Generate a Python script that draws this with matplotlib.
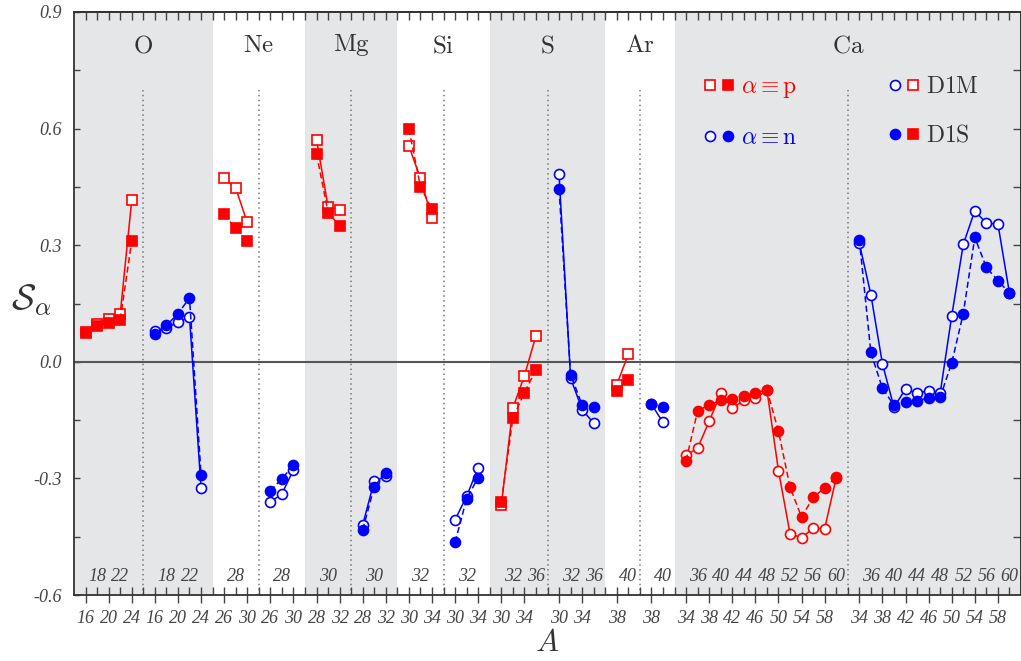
import matplotlib
matplotlib.use("Agg")
import matplotlib.pyplot as plt
from matplotlib.lines import Line2D
from matplotlib.legend_handler import HandlerTuple

plt.rcParams['mathtext.fontset'] = 'cm'

# ---------------- data ----------------
elements = ['O', 'Ne', 'Mg', 'Si', 'S', 'Ar', 'Ca']

A_O = [16, 18, 20, 22, 24]
A_Ne = [26, 28, 30]
A_Mg = [28, 30, 32]
A_Si = [30, 32, 34]
A_S = [30, 32, 34, 36]
A_Ar = [38, 40]
A_Ca = [34, 36, 38, 40, 42, 44, 46, 48, 50, 52, 54, 56, 58, 60]

# alpha = p  (D1M open, D1S filled)
p_D1M_O = [0.076, 0.098, 0.110, 0.123, 0.416]
p_D1S_O = [0.074, 0.093, 0.101, 0.108, 0.311]
p_D1M_Ne = [0.472, 0.447, 0.359]
p_D1S_Ne = [0.380, 0.343, 0.312]
p_D1M_Mg = [0.571, 0.399, 0.391]
p_D1S_Mg = [0.535, 0.384, 0.350]
p_D1M_Si = [0.555, 0.472, 0.369]
p_D1S_Si = [0.599, 0.451, 0.392]
p_D1M_S = [-0.369, -0.119, -0.036, 0.067]
p_D1S_S = [-0.361, -0.145, -0.079, -0.021]
p_D1M_Ar = [-0.059, 0.020]
p_D1S_Ar = [-0.075, -0.048]
p_D1M_Ca = [-0.241, -0.222, -0.153, -0.081, -0.120, -0.099, -0.094, -0.073,
            -0.280, -0.442, -0.453, -0.428, -0.429, -0.298]
p_D1S_Ca = [-0.254, -0.126, -0.111, -0.099, -0.096, -0.087, -0.080, -0.072,
            -0.179, -0.322, -0.400, -0.349, -0.324, -0.297]

# alpha = n  (D1M open, D1S filled)
n_D1M_O = [0.080, 0.087, 0.102, 0.116, -0.325]
n_D1S_O = [0.072, 0.094, 0.123, 0.165, -0.290]
n_D1M_Ne = [-0.361, -0.340, -0.278]
n_D1S_Ne = [-0.332, -0.301, -0.266]
n_D1M_Mg = [-0.419, -0.307, -0.295]
n_D1S_Mg = [-0.432, -0.321, -0.285]
n_D1M_Si = [-0.406, -0.346, -0.272]
n_D1S_Si = [-0.464, -0.352, -0.298]
n_D1M_S = [0.482, -0.042, -0.123, -0.158]
n_D1S_S = [0.444, -0.033, -0.111, -0.116]
n_D1M_Ar = [-0.109, -0.156]
n_D1S_Ar = [-0.109, -0.116]
n_D1M_Ca = [0.305, 0.173, -0.005, -0.117, -0.070, -0.081, -0.074, -0.081,
            0.118, 0.302, 0.389, 0.356, 0.355, 0.177]
n_D1S_Ca = [0.314, 0.024, -0.068, -0.112, -0.104, -0.101, -0.093, -0.091,
            -0.003, 0.124, 0.320, 0.243, 0.209, 0.177]

y_ticks = [-0.6, -0.3, 0.0, 0.3, 0.6, 0.9]
y_tick_labels = ['-0.6', '-0.3', '0.0', '0.3', '0.6', '0.9']

groups = [
    ('O', A_O, p_D1M_O, p_D1S_O, n_D1M_O, n_D1S_O, 's'),
    ('Ne', A_Ne, p_D1M_Ne, p_D1S_Ne, n_D1M_Ne, n_D1S_Ne, 's'),
    ('Mg', A_Mg, p_D1M_Mg, p_D1S_Mg, n_D1M_Mg, n_D1S_Mg, 's'),
    ('Si', A_Si, p_D1M_Si, p_D1S_Si, n_D1M_Si, n_D1S_Si, 's'),
    ('S', A_S, p_D1M_S, p_D1S_S, n_D1M_S, n_D1S_S, 's'),
    ('Ar', A_Ar, p_D1M_Ar, p_D1S_Ar, n_D1M_Ar, n_D1S_Ar, 's'),
    ('Ca', A_Ca, p_D1M_Ca, p_D1S_Ca, n_D1M_Ca, n_D1S_Ca, 'o'),
]

# ---------------- style ----------------
RED = '#ff0000'
BLUE = '#0000ff'
BAND = '#e5e6e8'
TXT = '#333333'
MS = 7.2
MEW = 1.2
LW = 1.1
DASH = (0, (4, 2.2))
tickfont = dict(family='Liberation Serif', style='italic', size=13, color='#444444')

fig = plt.figure(figsize=(10.21, 6.61), dpi=100)
ax = fig.add_axes([74 / 1021, 66 / 661, 947 / 1021, 583 / 661])
ax.set_ylim(-0.6, 0.9)

bottom_ticks, bottom_labels = [], []
slot = 0
for gi, (name, A, pM, pS, nM, nS, pmark) in enumerate(groups):
    n = len(A)
    xp = list(range(slot, slot + n))
    sep = slot + n
    xn = list(range(sep + 1, sep + 1 + n))
    band_lo, band_hi = slot - 1, sep + n + 1
    if gi % 2 == 0:
        ax.axvspan(band_lo, band_hi, color=BAND, zorder=0, lw=0)
    ax.plot([sep, sep], [-0.6, 0.70], ls=(0, (1, 2.2)), color='#777777', lw=1.1, zorder=1)
    ax.text(sep, 0.815, r'$\mathrm{%s}$' % name, fontsize=18, color=TXT,
            ha='center', va='center')
    for xs, M, S, col, mk in [(xp, pM, pS, RED, pmark), (xn, nM, nS, BLUE, 'o')]:
        ax.plot(xs, M, ls='-', lw=LW, color=col, marker=mk, ms=MS, mfc='white',
                mec=col, mew=MEW, zorder=3)
        ax.plot(xs, S, ls=DASH, lw=LW, color=col, marker=mk, ms=MS, mfc=col,
                mec=col, mew=MEW, zorder=4)
        for i, (x, a) in enumerate(zip(xs, A)):
            if i % 2 == 0:
                bottom_ticks.append(x)
                bottom_labels.append(str(a))
            else:
                ax.text(x, -0.553, str(a), ha='center', va='center', **tickfont)
    slot = sep + n + 2

ax.set_xlim(-1, slot - 1)
ax.axhline(0, color='#555555', lw=1.5, zorder=2)

# ticks
ax.set_xticks(bottom_ticks)
ax.set_xticklabels(bottom_labels, fontdict=tickfont)
ax.set_xticks(range(0, slot - 1), minor=True)
ax.tick_params(axis='x', which='major', direction='inout', length=11.5, width=1.0,
               color='#444444', pad=5)
ax.tick_params(axis='x', which='minor', direction='in', length=5.8, width=1.0,
               color='#444444')
ax.set_yticks(y_ticks)
ax.set_yticklabels(y_tick_labels, fontdict=tickfont)
ax.set_yticks([-0.45, -0.15, 0.15, 0.45, 0.75], minor=True)
ax.tick_params(axis='y', which='both', direction='in', length=4.5, width=1.0,
               color='#444444', pad=9)

top = ax.secondary_xaxis('top')
top.set_xticks(range(0, slot - 1))
top.tick_params(direction='in', length=5.8, width=1.0, color='#444444', labeltop=False)
right = ax.secondary_yaxis('right')
right.set_yticks([-0.45, -0.3, -0.15, 0.0, 0.15, 0.3, 0.45, 0.6, 0.75])
right.tick_params(direction='in', length=5.8, width=1.0, color='#444444', labelright=False)

for sp in list(ax.spines.values()) + list(top.spines.values()) + list(right.spines.values()):
    sp.set_color('#333333')
    sp.set_linewidth(1.3)

ax.set_xlabel(r'$A$', fontsize=22, color=TXT)
ax.xaxis.set_label_coords(0.5, -0.057)
ax.set_ylabel(r'$\mathcal{S}_\alpha$', fontsize=26, color=TXT, rotation=0,
              ha='center', va='center')
ax.yaxis.set_label_coords(-0.045, 0.506)

# legend
def mk(marker, col, filled):
    return Line2D([], [], ls='none', marker=marker, ms=MS, mec=col,
                  mfc=col if filled else 'white', mew=MEW)

handles = [(mk('s', RED, False), mk('s', RED, True)),
           (mk('o', BLUE, False), mk('o', BLUE, True)),
           (mk('o', BLUE, False), mk('s', RED, False)),
           (mk('o', BLUE, True), mk('s', RED, True))]
labels = [r'$\alpha \equiv \mathrm{p}$', r'$\alpha \equiv \mathrm{n}$',
          r'$\mathrm{D1M}$', r'$\mathrm{D1S}$']
leg = ax.legend(handles, labels, ncol=2, loc='upper left',
                bbox_to_anchor=((704 - 74) / 947, (595 - 74) / 583),
                frameon=False, fontsize=17, borderpad=0, borderaxespad=0,
                handlelength=1.3, handletextpad=0.25, columnspacing=3.9,
                labelspacing=1.05,
                handler_map={tuple: HandlerTuple(ndivide=None, pad=0.2)})
for t, c in zip(leg.get_texts(), [RED, BLUE, TXT, TXT]):
    t.set_color(c)

fig.savefig('out.png', dpi=100)
